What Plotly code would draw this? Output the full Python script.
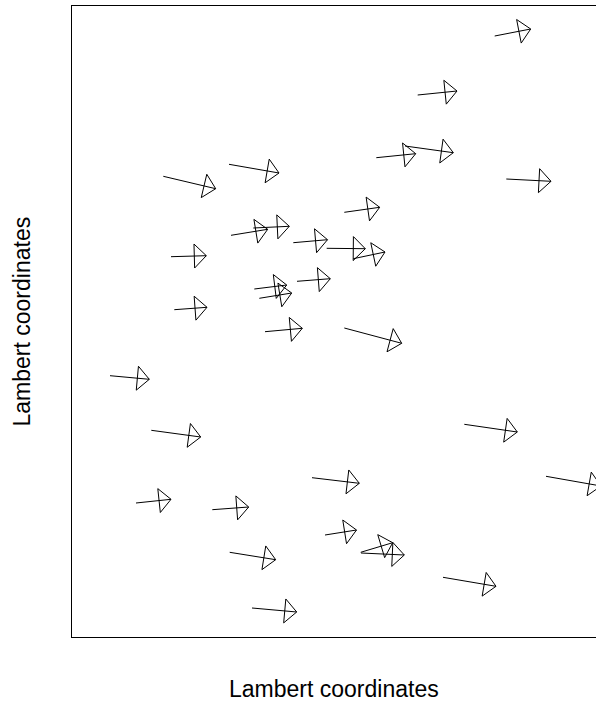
import numpy as np
import plotly.graph_objects as go

# Station positions (Lambert coordinates) and displacement components
x = [3571.3, 3637.0, 3639.0, 3661.3, 3701.3, 3579.0, 3662.3, 3667.3, 3705.0, 3582.3,
     3673.0, 3902.7, 3825.7, 3784.3, 3813.0, 3914.3, 3752.3, 3734.7, 3761.3, 3752.3,
     3518.0, 3559.3, 3544.0, 3620.3, 3872.3, 3720.0, 3954.0, 3733.0, 3768.7, 3769.0,
     3851.0, 3637.7, 3660.0]
y = [2729.7, 2741.7, 2670.7, 2678.0, 2663.3, 2649.3, 2617.0, 2607.7, 2624.7, 2596.3,
     2574.3, 2870.0, 2811.0, 2748.3, 2760.0, 2727.0, 2693.7, 2657.7, 2647.3, 2578.0,
     2530.3, 2475.7, 2403.0, 2396.3, 2481.7, 2428.3, 2429.7, 2371.0, 2353.7, 2353.0,
     2328.7, 2353.7, 2298.0]
u = [52.4, 50.0, 36.7, 36.0, 34.2, 35.3, 32.4, 32.4, 33.3, 32.7,
     37.3, 36.0, 39.3, 39.4, 48.3, 44.7, 35.4, 38.6, 31.7, 57.4,
     39.3, 49.4, 35.0, 36.4, 53.0, 47.3, 55.0, 31.5, 32.0, 43.3,
     53.0, 46.0, 44.7]
v = [-12.4, -8.7, 6.0, 1.7, 3.0, 1.0, 4.0, 5.3, 2.6, 2.4,
     3.4, 7.0, 4.0, 4.0, -6.7, -2.3, 5.0, -0.4, 6.7, -15.3,
     -3.6, -6.7, 3.7, 2.7, -7.7, -5.6, -9.7, 5.0, 9.6, -2.0,
     -9.0, -7.4, -4.0]

XRANGE = [3480, 4004]
YRANGE = [2269, 2900]
W, H = 596, 704
ML, MR, MT, MB = 72, 0, 6, 67

# pixels per data unit, used to give the heads a fixed on-screen shape
sx = (W - ML - MR) / (XRANGE[1] - XRANGE[0])
sy = (H - MT - MB) / (YRANGE[1] - YRANGE[0])
HEAD_LEN, HEAD_HALF = 12.0, 12.0

px, py = [], []
for x0, y0, dx, dy in zip(x, y, u, v):
    x1, y1 = x0 + dx, y0 + dy
    # shaft
    px += [x0, x1, None]
    py += [y0, y1, None]
    # open triangular head, built in screen space
    ddx, ddy = dx * sx, dy * sy
    n = np.hypot(ddx, ddy)
    ux, uy = ddx / n, ddy / n
    bx, by = -ux * HEAD_LEN, -uy * HEAD_LEN
    p1 = (bx - uy * HEAD_HALF, by + ux * HEAD_HALF)
    p2 = (bx + uy * HEAD_HALF, by - ux * HEAD_HALF)
    px += [x1, x1 + p1[0] / sx, x1 + p2[0] / sx, x1, None]
    py += [y1, y1 + p1[1] / sy, y1 + p2[1] / sy, y1, None]

fig = go.Figure(go.Scatter(x=px, y=py, mode="lines",
                           line=dict(color="black", width=1),
                           hoverinfo="skip", showlegend=False))

fig.update_layout(
    width=W, height=H,
    margin=dict(l=ML, r=MR, t=MT, b=MB),
    paper_bgcolor="white", plot_bgcolor="white",
    font=dict(family="Liberation Sans, Arial, sans-serif", color="black"),
    xaxis=dict(range=XRANGE, showgrid=False, zeroline=False, showticklabels=False,
               ticks="", showline=True, linecolor="black", linewidth=1, mirror=True),
    yaxis=dict(range=YRANGE, showgrid=False, zeroline=False, showticklabels=False,
               ticks="", showline=True, linecolor="black", linewidth=1, mirror=False),
    annotations=[
        dict(text="Lambert coordinates", x=0.5, y=0, xref="paper", yref="paper",
             xanchor="center", yanchor="middle", yshift=-52, showarrow=False,
             font=dict(size=23)),
        dict(text="Lambert coordinates", x=0, y=0.5, xref="paper", yref="paper",
             xanchor="center", yanchor="middle", xshift=-51, textangle=-90,
             showarrow=False, font=dict(size=23)),
    ],
)

fig.write_html("out.html")
